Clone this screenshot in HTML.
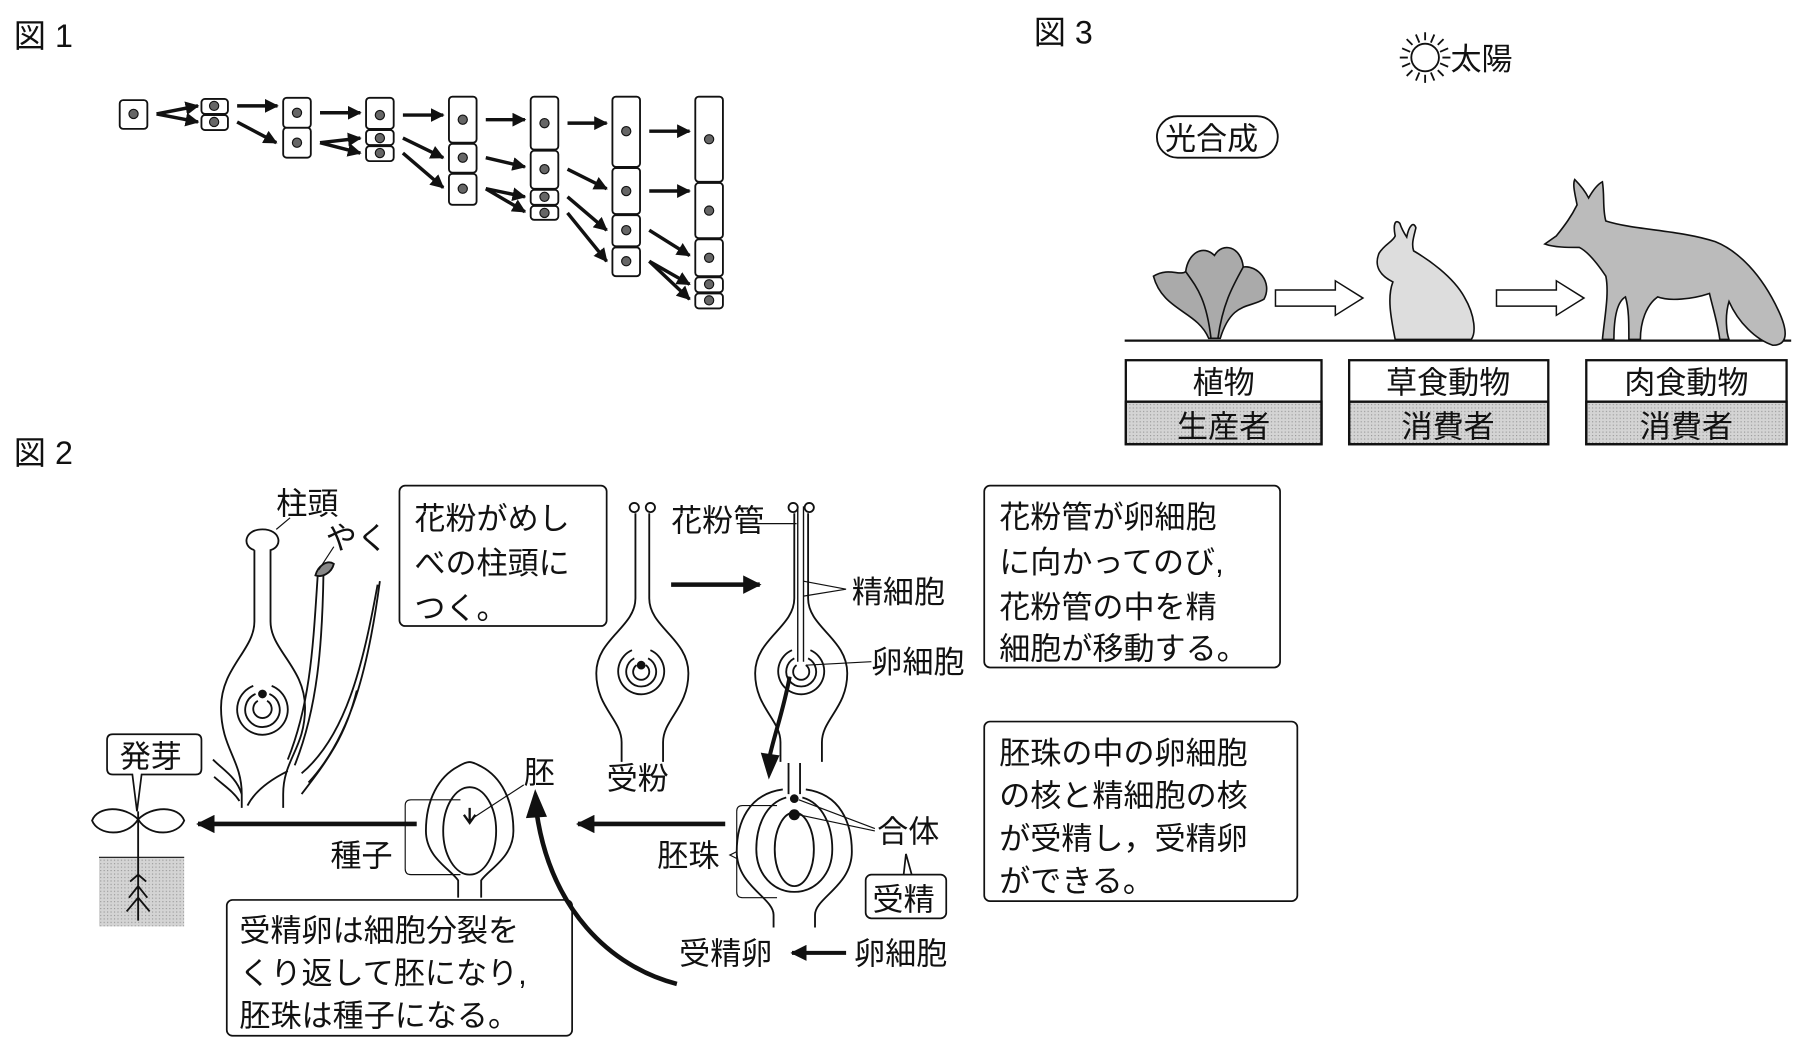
<!DOCTYPE html>
<html><head><meta charset="utf-8"><style>
html,body{margin:0;padding:0;background:#fff;}
svg{display:block;}
text{font-family:"Liberation Sans","Noto Sans CJK JP",sans-serif;fill:#111;}
</style></head><body>
<svg width="1805" height="1053" viewBox="0 0 1568 915" preserveAspectRatio="none" xmlns="http://www.w3.org/2000/svg">
<defs>
<marker id="ah" viewBox="0 0 10 10" refX="9" refY="5" markerWidth="4" markerHeight="4" orient="auto"><path d="M0,0 L10,5 L0,10 z" fill="#111"/></marker>
<pattern id="dots" width="3" height="3" patternUnits="userSpaceOnUse"><rect width="3" height="3" fill="#d4d4d4"/><rect width="1" height="1" fill="#999"/></pattern>
</defs>
<g fill="none" stroke="#111" stroke-width="1.6">
<g>
<rect x="104" y="87" width="24" height="25" rx="3"/>
<rect x="175" y="86" width="23" height="13" rx="3"/><rect x="175" y="100" width="23" height="13" rx="3"/>
<rect x="246" y="85" width="24" height="26" rx="3"/><rect x="246" y="111" width="24" height="26" rx="3"/>
<rect x="318" y="85" width="24" height="27" rx="3"/><rect x="318" y="113" width="24" height="13" rx="3"/><rect x="318" y="127" width="24" height="13" rx="3"/>
<rect x="390" y="84" width="24" height="40" rx="3"/><rect x="390" y="125" width="24" height="25" rx="3"/><rect x="390" y="151" width="24" height="27" rx="3"/>
<rect x="461" y="84" width="24" height="46" rx="3"/><rect x="461" y="131" width="24" height="33" rx="3"/><rect x="461" y="165" width="24" height="13" rx="3"/><rect x="461" y="179" width="24" height="12" rx="3"/>
<rect x="532" y="84" width="24" height="61" rx="3"/><rect x="532" y="146" width="24" height="40" rx="3"/><rect x="532" y="187" width="24" height="27" rx="3"/><rect x="532" y="215" width="24" height="25" rx="3"/>
<rect x="604" y="84" width="24" height="74" rx="3"/><rect x="604" y="159" width="24" height="48" rx="3"/><rect x="604" y="208" width="24" height="32" rx="3"/><rect x="604" y="241" width="24" height="13" rx="3"/><rect x="604" y="255" width="24" height="13" rx="3"/>
</g>
<g fill="#666" stroke-width="1">
<circle cx="116" cy="99" r="4"/><circle cx="186" cy="92" r="4"/><circle cx="186" cy="106" r="4"/>
<circle cx="258" cy="98" r="4"/><circle cx="258" cy="124" r="4"/>
<circle cx="330" cy="100" r="4"/><circle cx="330" cy="120" r="4"/><circle cx="330" cy="133" r="4"/>
<circle cx="402" cy="104" r="4"/><circle cx="402" cy="137" r="4"/><circle cx="402" cy="164" r="4"/>
<circle cx="473" cy="107" r="4"/><circle cx="473" cy="147" r="4"/><circle cx="473" cy="171" r="4"/><circle cx="473" cy="185" r="4"/>
<circle cx="544" cy="114" r="4"/><circle cx="544" cy="166" r="4"/><circle cx="544" cy="200" r="4"/><circle cx="544" cy="227" r="4"/>
<circle cx="616" cy="121" r="4"/><circle cx="616" cy="183" r="4"/><circle cx="616" cy="224" r="4"/><circle cx="616" cy="247" r="4"/><circle cx="616" cy="261" r="4"/>
</g>
<g stroke-width="3" marker-end="url(#ah)">
<path d="M136,99 L172,92"/><path d="M136,99 L172,106"/>
<path d="M206,92 L241,92"/><path d="M206,106 L240,124"/>
<path d="M278,98 L313,98"/><path d="M278,124 L313,120"/><path d="M278,124 L313,133"/>
<path d="M350,100 L385,100"/><path d="M350,120 L385,137"/><path d="M350,133 L385,163"/>
<path d="M422,104 L456,104"/><path d="M422,137 L456,145"/><path d="M422,164 L456,171"/><path d="M422,164 L456,184"/>
<path d="M493,107 L527,107"/><path d="M493,147 L527,164"/><path d="M493,171 L527,200"/><path d="M493,185 L527,227"/>
<path d="M564,114 L599,114"/><path d="M564,166 L599,166"/><path d="M564,200 L599,222"/><path d="M564,227 L599,247"/><path d="M564,227 L599,260"/>
</g>

<!-- Fig3 -->
<circle cx="1238" cy="50" r="12"/>
<g stroke-width="1.6">
<path d="M1238,28 L1238,35 M1238,65 L1238,72 M1216,50 L1223,50 M1253,50 L1260,50 M1222,34 L1227,39 M1249,61 L1254,66 M1254,34 L1249,39 M1227,61 L1222,66 M1230,30 L1233,37 M1246,30 L1243,37 M1230,70 L1233,63 M1246,70 L1243,63 M1218,42 L1225,45 M1218,58 L1225,55 M1258,42 L1251,45 M1258,58 L1251,55"/>
</g>
<rect x="1005" y="101" width="105" height="36" rx="18"/>
<line x1="977" y1="296" x2="1556" y2="296" stroke-width="2"/>
<path d="M1108,252 L1160,252 L1160,244 L1184,259 L1160,274 L1160,266 L1108,266 Z" stroke-width="1.3"/>
<path d="M1300,252 L1352,252 L1352,244 L1376,259 L1352,274 L1352,266 L1300,266 Z" stroke-width="1.3"/>
<g fill="#aaa" stroke-width="1.4">
<path d="M1050,294 C1040,270 1010,270 1002,240 C1015,232 1025,240 1030,236 C1032,220 1045,212 1055,222 C1062,210 1078,214 1080,232 C1092,230 1106,245 1098,260 C1085,268 1070,262 1060,294 Z"/>
<path d="M1030,236 C1040,250 1048,260 1052,294" fill="none"/><path d="M1080,232 C1070,250 1062,265 1058,294" fill="none"/>
</g>
<g fill="#ddd" stroke-width="1.4">
<path d="M1212,295 C1208,275 1205,258 1210,245 C1200,240 1193,232 1198,220 C1203,212 1210,210 1212,205 C1210,195 1212,190 1216,194 C1218,200 1220,203 1222,206 C1224,196 1228,192 1230,198 C1228,206 1226,212 1228,218 C1240,225 1262,240 1272,258 C1282,275 1282,290 1278,295 Z"/>
</g>
<g fill="#bbb" stroke-width="1.4">
<path d="M1352,205 C1360,195 1365,188 1370,178 C1368,168 1366,160 1368,156 C1374,162 1378,168 1380,172 C1384,165 1388,160 1392,158 C1394,170 1392,182 1395,192 C1420,200 1460,200 1490,210 C1510,218 1530,238 1545,270 C1552,285 1555,300 1540,300 C1525,295 1510,280 1502,262 C1498,275 1500,290 1502,295 L1494,295 C1492,280 1488,268 1485,255 C1470,260 1450,262 1440,258 C1430,265 1425,280 1425,295 L1415,295 C1415,280 1415,268 1412,258 C1405,262 1402,275 1402,295 L1392,295 C1394,275 1398,255 1395,240 C1385,225 1378,218 1372,215 C1362,215 1350,215 1342,212 Z"/>
</g>
<g stroke-width="2">
<rect x="978" y="349" width="170" height="37" fill="url(#dots)"/><rect x="978" y="313" width="170" height="73"/><line x1="978" y1="349" x2="1148" y2="349"/>
<rect x="1172" y="349" width="173" height="37" fill="url(#dots)"/><rect x="1172" y="313" width="173" height="73"/><line x1="1172" y1="349" x2="1345" y2="349"/>
<rect x="1378" y="349" width="174" height="37" fill="url(#dots)"/><rect x="1378" y="313" width="174" height="73"/><line x1="1378" y1="349" x2="1552" y2="349"/>
</g>

<g stroke-width="1.5">
<rect x="347" y="422" width="180" height="122" rx="5"/>
<rect x="855" y="422" width="257" height="158" rx="5"/>
<rect x="855" y="627" width="272" height="156" rx="5"/>
<rect x="197" y="782" width="300" height="118" rx="5"/>
<path d="M98,638 L170,638 Q175,638 175,643 L175,668 Q175,673 170,673 L123,673 L119,705 L115,673 L98,673 Q93,673 93,668 L93,643 Q93,638 98,638 Z"/>
<rect x="752" y="760" width="70" height="38" rx="5"/>
<path d="M785,760 L787,742 L792,760" />
</g>

<!-- left flower -->
<path d="M221,478 C210,475 212,460 228,460 C244,460 246,475 235,478 L235,540 C235,565 265,580 265,615 C265,650 246,660 246,690 L246,702 M221,478 L221,540 C221,565 192,580 192,615 C192,650 210,660 210,690 L210,702"/>
<path d="M220,596 A22,22 0 1 0 236,596 M222,603 A15,15 0 1 0 234,603 M224,609 A8,8 0 1 0 232,609"/>
<circle cx="228" cy="603" r="3" fill="#111"/>
<path d="M276,500 C272,560 270,610 250,660 M281,498 C280,560 276,615 256,665"/>
<path d="M274,500 C276,492 284,486 290,490 C288,498 280,502 274,500 Z" fill="#888"/>
<path d="M328,508 C315,580 300,640 262,672 M330,505 C320,580 305,640 268,680 M310,600 C300,640 285,660 262,690"/>
<path d="M250,670 C230,680 220,690 215,700 M185,660 C195,670 205,675 210,690 M186,675 C195,683 203,688 208,696"/>
<line x1="240" y1="460" x2="252" y2="450" stroke-width="1"/>
<line x1="277" y1="495" x2="290" y2="475" stroke-width="1"/>

<!-- middle pistil -->
<circle cx="551" cy="441" r="4"/><circle cx="565" cy="441" r="4"/>
<path d="M552,446 L552,520 C552,545 518,555 518,585 C518,615 540,625 540,645 L540,662 M564,446 L564,520 C564,545 598,555 598,585 C598,615 576,625 576,645 L576,662"/>
<path d="M549,565 A20,20 0 1 0 565,565 M551,572 A13,13 0 1 0 563,572 M553,578 A7,7 0 1 0 561,578"/>
<circle cx="557" cy="578" r="3" fill="#111"/>

<!-- right pistil -->
<circle cx="689" cy="441" r="4"/><circle cx="703" cy="441" r="4"/>
<path d="M690,446 L690,520 C690,545 656,555 656,585 C656,615 678,625 678,645 L678,662 M702,446 L702,520 C702,545 736,555 736,585 C736,615 714,625 714,645 L714,662"/>
<path d="M693,440 L693,575 M698,440 L698,575" stroke-width="1.2"/>
<path d="M688,565 A20,20 0 1 0 704,565 M690,572 A13,13 0 1 0 702,572 M692,578 A7,7 0 1 0 700,578"/>
<line x1="640" y1="455" x2="692" y2="455" stroke-width="1"/>
<path d="M698,505 L735,512 M698,518 L735,512" stroke-width="1"/>
<line x1="700" y1="578" x2="757" y2="575" stroke-width="1"/>

<!-- bottom ovule -->
<path d="M685,663 L685,690 M695,663 L695,690"/>
<path d="M680,686 C650,690 640,715 640,740 C640,770 672,780 672,795 L672,806 M700,686 C730,690 740,715 740,740 C740,770 708,780 708,795 L708,806"/>
<path d="M683,693 C665,698 657,718 657,738 C657,760 672,775 690,775 C708,775 723,760 723,738 C723,718 715,698 697,693"/>
<ellipse cx="690" cy="738" rx="17" ry="32"/>
<circle cx="690" cy="708" r="4" fill="#111"/><circle cx="690" cy="694" r="3" fill="#111"/>
<path d="M694,695 L760,720 M694,708 L760,722" stroke-width="1"/>
<path d="M675,700 L645,700 Q640,700 640,705 L640,775 Q640,780 645,780 L675,780" stroke-width="1"/>
<path d="M640,740 L634,743 L640,746" stroke-width="1"/>

<!-- seed -->
<path d="M398,666 C408,660 410,662 418,666 C435,675 446,695 446,722 C446,745 425,755 418,765 L418,780 M398,666 C381,675 370,695 370,722 C370,745 391,755 398,765 L398,780"/>
<ellipse cx="408" cy="722" rx="23" ry="38"/>
<path d="M403,708 L408,715 L413,708 M408,702 L408,715" stroke-width="2"/>
<path d="M412,710 L455,682" stroke-width="1"/>
<path d="M400,695 L357,695 Q352,695 352,700 L352,755 Q352,760 357,760 L400,760" stroke-width="1"/>

<!-- sprout -->
<rect x="86" y="745" width="74" height="60" fill="url(#dots)" stroke="none"/>
<line x1="86" y1="745" x2="160" y2="745" stroke-width="1"/>
<path d="M120,705 L120,800 M120,770 L112,780 M120,770 L128,780 M120,780 L110,792 M120,780 L130,792 M120,760 L113,766 M120,760 L127,766" stroke-width="1.6"/>
<path d="M120,712 C108,700 85,700 80,713 C85,726 110,728 120,712 Z"/>
<path d="M120,712 C132,700 155,700 160,713 C155,726 130,728 120,712 Z"/>

<g stroke-width="4" marker-end="url(#ah)">
<path d="M583,508 L660,508"/>
<path d="M630,716 L502,716"/>
<path d="M362,716 L172,716"/>
<path d="M735,828 L688,828" stroke-width="3.5"/>
</g>
<path d="M686,588 C680,620 672,640 668,660" stroke-width="3.5"/>
<path d="M662,655 L668,675 L676,657 Z" fill="#111"/>
<path d="M588,855 C530,840 478,790 466,705" stroke-width="4"/>
<path d="M458,710 L465,688 L474,709 Z" fill="#111"/>
</g>

<g font-size="28">
<text x="12" y="41">図 1</text>
<text x="898" y="38">図 3</text>
<text x="12" y="403">図 2</text>
</g>
<g font-size="27">
<text x="1260" y="61">太陽</text>
<text x="1012" y="130">光合成</text>
<text x="1063" y="342" text-anchor="middle">植物</text>
<text x="1063" y="380" text-anchor="middle">生産者</text>
<text x="1258" y="342" text-anchor="middle">草食動物</text>
<text x="1258" y="380" text-anchor="middle">消費者</text>
<text x="1465" y="342" text-anchor="middle">肉食動物</text>
<text x="1465" y="380" text-anchor="middle">消費者</text>
</g>
<g font-size="27">
<text x="360" y="460">花粉がめし</text>
<text x="360" y="499">べの柱頭に</text>
<text x="360" y="538">つく。</text>
<text x="868" y="459">花粉管が卵細胞</text>
<text x="868" y="498">に向かってのび,</text>
<text x="868" y="537">花粉管の中を精</text>
<text x="868" y="573">細胞が移動する。</text>
<text x="868" y="664">胚珠の中の卵細胞</text>
<text x="868" y="701">の核と精細胞の核</text>
<text x="868" y="738">が受精し，受精卵</text>
<text x="868" y="775">ができる。</text>
<text x="208" y="818">受精卵は細胞分裂を</text>
<text x="208" y="855">くり返して胚になり,</text>
<text x="208" y="892">胚珠は種子になる。</text>
<text x="104" y="667">発芽</text>
<text x="758" y="791">受精</text>
<text x="240" y="447">柱頭</text>
<text x="283" y="477">やく</text>
<text x="583" y="462">花粉管</text>
<text x="740" y="524">精細胞</text>
<text x="757" y="585">卵細胞</text>
<text x="527" y="686">受粉</text>
<text x="455" y="681">胚</text>
<text x="287" y="753">種子</text>
<text x="571" y="753">胚珠</text>
<text x="762" y="732">合体</text>
<text x="590" y="838">受精卵</text>
<text x="742" y="838">卵細胞</text>
</g>
</svg>
</body></html>
